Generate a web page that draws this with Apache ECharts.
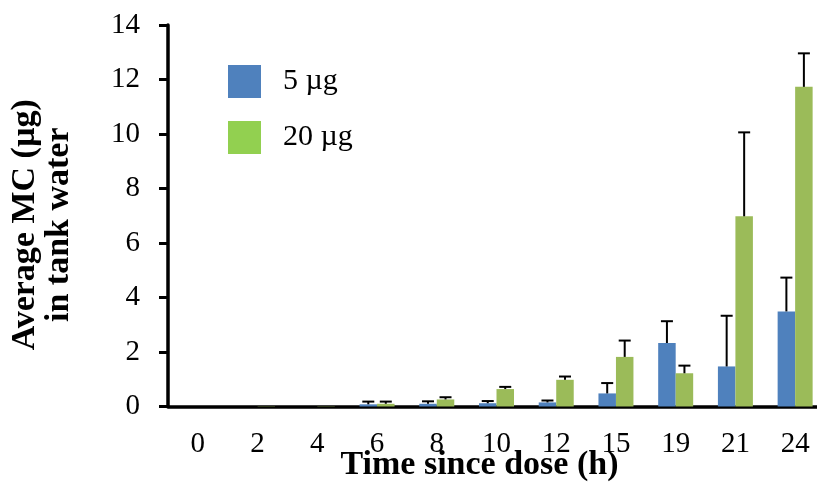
<!DOCTYPE html>
<html>
<head>
<meta charset="utf-8">
<script src="https://cdn.jsdelivr.net/npm/echarts@6/dist/echarts.min.js"></script>
<style>
  html, body { margin: 0; padding: 0; background: #fff; }
  #chart { width: 817px; height: 486px; }
</style>
</head>
<body>
<div id="chart"></div>
<script>
// time points (h)
const hours = ["0", "2", "4", "6", "8", "10", "12", "15", "19", "21", "24"];
// mean MC in tank water (µg)
const dose5 = [0, 0, 0, 0.08, 0.1, 0.12, 0.15, 0.48, 2.33, 1.47, 3.49];
const dose5Err = [0, 0, 0, 0.1, 0.09, 0.08, 0.07, 0.38, 0.8, 1.86, 1.24];
const dose20 = [0, 0.01, 0.01, 0.1, 0.26, 0.64, 0.98, 1.82, 1.22, 6.98, 11.73];
const dose20Err = [0, 0, 0, 0.08, 0.08, 0.08, 0.12, 0.6, 0.28, 3.08, 1.23];
const yTicks = [0, 2, 4, 6, 8, 10, 12, 14];

const serif = "'Liberation Serif', 'Times New Roman', serif";
const barW = 17.5;

// error bar: line up from the bar top plus a cap
function errorBars(vals, errs, side) {
  return {
    type: "custom",
    silent: true,
    z: 5,
    data: vals.map((v, i) => [i, v, errs[i]]),
    renderItem(params, api) {
      const e = api.value(2);
      if (!e) return;
      const base = api.coord([api.value(0), api.value(1)]);
      const top = api.coord([api.value(0), api.value(1) + e]);
      const x = base[0] + side * barW / 2;
      const style = { stroke: "#000", lineWidth: 2 };
      return {
        type: "group",
        children: [
          { type: "line", shape: { x1: x, y1: base[1], x2: x, y2: top[1] }, style },
          { type: "line", shape: { x1: x - 6, y1: top[1], x2: x + 6, y2: top[1] }, style }
        ]
      };
    }
  };
}

const myChart = echarts.init(document.getElementById("chart"));
const option = {
  animation: false,
  grid: { left: 168, top: 25, width: 657, height: 381.5, outerBoundsMode: "none", containLabel: false },
  legend: {
    orient: "vertical",
    left: 223,
    top: 60,
    itemWidth: 33,
    itemHeight: 33,
    itemGap: 23,
    icon: "rect",
    data: [
      { name: "5 µg", itemStyle: { color: "#4F81BD" } },
      { name: "20 µg", itemStyle: { color: "#92D050" } }
    ],
    textStyle: { fontFamily: serif, fontSize: 30, color: "#000", padding: [0, 0, 0, 17] }
  },
  xAxis: {
    type: "category",
    data: hours,
    name: "Time since dose (h)",
    nameLocation: "middle",
    nameGap: 42,
    nameMoveOverlap: false,
    nameTextStyle: {
      fontFamily: serif, fontSize: 34, fontWeight: "bold", color: "#000",
      padding: [0, 34, 0, 0]
    },
    axisLine: { lineStyle: { color: "#000", width: 3.5 } },
    axisTick: { length: 9, lineStyle: { color: "#000", width: 3 } },
    axisLabel: { fontFamily: serif, fontSize: 29, color: "#000", margin: 23 }
  },
  yAxis: {
    type: "value",
    min: yTicks[0],
    max: yTicks[yTicks.length - 1],
    interval: 2,
    name: "Average MC (µg)\nin tank water",
    nameLocation: "middle",
    nameGap: 92,
    nameTextStyle: {
      fontFamily: serif, fontSize: 34, fontWeight: "bold", color: "#000",
      lineHeight: 34, align: "center", padding: [0, 18, 0, 0]
    },
    splitLine: { show: false },
    axisLine: { show: true, lineStyle: { color: "#000", width: 3.5 } },
    axisTick: { show: true, length: 9, lineStyle: { color: "#000", width: 3 } },
    axisLabel: { fontFamily: serif, fontSize: 29, color: "#000", margin: 28 }
  },
  series: [
    {
      name: "5 µg",
      type: "bar",
      data: dose5,
      barWidth: barW,
      barGap: "0%",
      itemStyle: { color: "#4F81BD" }
    },
    {
      name: "20 µg",
      type: "bar",
      data: dose20,
      barWidth: barW,
      barGap: "0%",
      itemStyle: { color: "#9BBB59" }
    },
    errorBars(dose5, dose5Err, -1),
    errorBars(dose20, dose20Err, 1)
  ]
};
myChart.setOption(option);
</script>
</body>
</html>
